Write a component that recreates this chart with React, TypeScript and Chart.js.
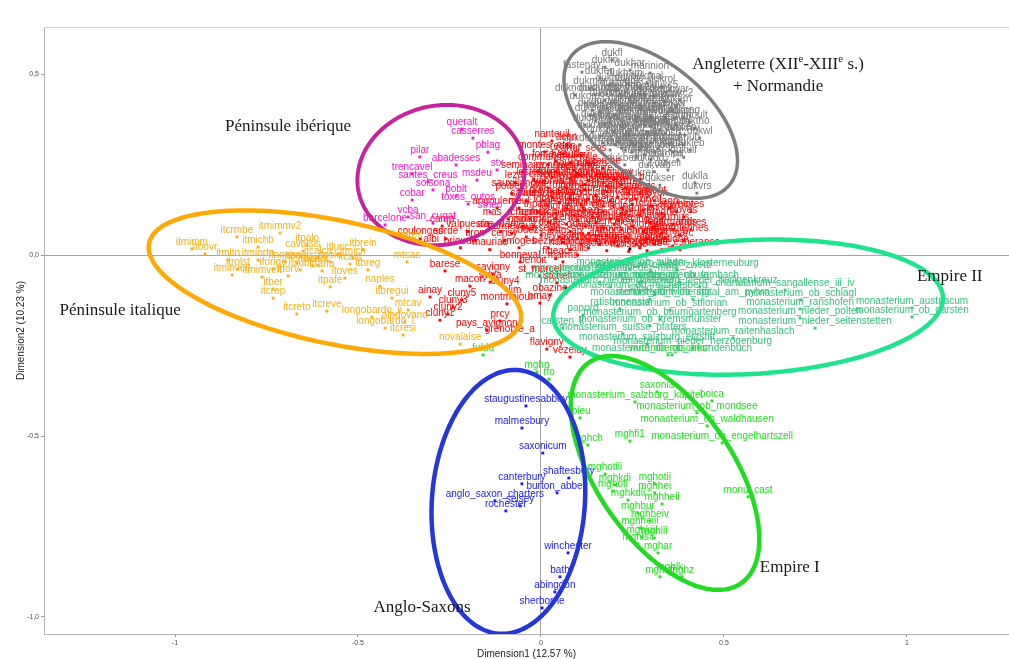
import React, { useEffect, useRef } from 'react';
import { Chart, registerables } from 'chart.js';

Chart.register(...registerables);

// ---------------- axes ----------------
const xTicks = [-1, -0.5, 0, 0.5, 1];
const xTickLabels = ['-1', '-0.5', '0', '0.5', '1'];
const yTicks = [-1, -0.5, 0, 0.5];
const yTickLabels = ['-1,0', '-0,5', '0,0', '0,5'];
const xTitle = 'Dimension1 (12.57 %)';
const yTitle = 'Dimension2 (10.23 %)';

// ---------------- Angleterre + Normandie (grey) ----------------
const angleNames = ['dukfin','fastenay','marinion','dukfen','dukham','dukndow','dukmar','dukbat','dukcar','dukc5',
  'dukc2','dukord','dukrob','dukjoh','dukste','dukhen','dukwil','dukric','dukgeo','grimoult',
  'duklp','dukwal','dukhug','dukrad','dukalan','dukwl','dukdow','dukgil','dukpet','dukmat',
  'dukosb','dukleb','dukrog','dukada','dukthom','pa','dukbern','dukgod','dukeli','duklla',
  'dukvrs','dukrei','dukser','dukfl','dukhar','dukbur','duknic','dukemm','dukagn','duksim',
  'dukal','dukand','dukbart','dukedw','dukrich','dukwalt','dukrand','dukhw','dukba','duklaur',
  'dukiv','dukv','dukvi','dukvii','dukviii','dukix','dukx','dukxi','dukxii','dukxiii'];
const angleX = [0.175,0.112,0.298,0.161,0.229,0.093,0.134,0.202,0.270,0.339,
  0.380,0.120,0.175,0.243,0.311,0.161,0.216,0.284,0.347,0.407,
  0.120,0.175,0.238,0.298,0.358,0.434,0.107,0.161,0.216,0.276,
  0.339,0.407,0.189,0.249,0.311,0.374,0.229,0.292,0.347,0.421,
  0.426,0.270,0.325,0.194,0.243,0.134,0.194,0.262,0.325,0.216,
  0.284,0.148,0.366,0.257,0.311,0.202,0.229,0.393,0.352,0.284,
  0.216,0.270,0.243,0.298,0.229,0.284,0.325,0.189,0.257,0.311];
const angleY = [0.519,0.505,0.503,0.489,0.483,0.442,0.461,0.456,0.461,0.450,
  0.428,0.420,0.428,0.428,0.420,0.395,0.395,0.395,0.395,0.367,
  0.359,0.362,0.362,0.356,0.351,0.323,0.304,0.329,0.323,0.318,
  0.318,0.290,0.290,0.284,0.284,0.262,0.249,0.249,0.235,0.199,
  0.171,0.207,0.193,0.539,0.511,0.387,0.345,0.345,0.345,0.442,
  0.442,0.442,0.378,0.387,0.318,0.304,0.290,0.331,0.290,0.276,
  0.414,0.414,0.378,0.378,0.331,0.356,0.414,0.378,0.304,0.351];
const angleCoreNames = ['dukhal','dukjoc','dukmal','dukrol','dukgui','dukodo','dukreg','dukser2','dukwar','dukalb',
  'dukber','dukcon','dukdav','dukern','dukfulk','dukgal','dukher','dukive','dukjor','duklam',
  'dukmau','duknig','dukoli','dukpag','dukram','duksaw','duktur','dukurs','dukvig','dukwin',
  'dukyvo','dukarn','dukbal','dukcec','dukdro','dukeud','dukfra','dukgun','dukhub','duking',
  'dukjul','dukkat','duklef','dukmil','dukneh','dukorm','dukpic','dukqui','dukrav','dukset',
  'duktho','dukulf','dukvau'];
const angleCoreX = [0.19,0.24,0.29,0.33,0.18,0.23,0.27,0.31,0.36,0.20,
  0.25,0.29,0.34,0.37,0.18,0.23,0.27,0.31,0.36,0.20,
  0.26,0.30,0.34,0.39,0.19,0.22,0.27,0.32,0.37,0.20,
  0.24,0.29,0.34,0.38,0.21,0.25,0.30,0.35,0.39,0.22,
  0.27,0.32,0.36,0.26,0.30,0.34,0.14,0.15,0.14,0.17,
  0.42,0.39,0.31];
const angleCoreY = [0.470,0.470,0.475,0.465,0.445,0.450,0.445,0.440,0.440,0.425,
  0.420,0.425,0.425,0.410,0.405,0.400,0.405,0.400,0.400,0.385,
  0.380,0.385,0.380,0.380,0.365,0.355,0.360,0.360,0.360,0.340,
  0.335,0.340,0.335,0.335,0.315,0.310,0.310,0.305,0.305,0.295,
  0.290,0.295,0.285,0.270,0.265,0.260,0.400,0.370,0.340,0.310,
  0.350,0.270,0.230];

// ---------------- France (red) ----------------
const franceNames = ['nanteuil','acon','montes_ord','redon','cartul_sens','commanderie','beaulieu','tulle','uzerche','seminaire',
  'conques','molesme','auxerre','pontigny','lezat','citeaux','clairvaux','marmoutier','vendome','chartres',
  'stdenis','sauxillanges','stgermain','corbie','stbertin','arras','amiens','noyon','laon','aubazine',
  'reims','chalons','metz','gorze','toul','verdun','troyes','tripale','langres','dijon',
  'beze','stbenigne','autun','chalon','tournus','mas_d_azil','lyon','vienne','romans','valence',
  'die','avignon','arles','marchiennes','marseille','lerins','aix','apt','nimes','maguelone',
  'aniane','gellone','beziers','narbonne','carcassonne','toulouse','moissac','cahors','figeac','camp',
  'valpuesta','aire_dame','coulonges','sorde','cerisy','tiron','rodez','albi','brioude','mauriac',
  'limoges','solignac','angouleme','saintes','poitiers','barese','savigny','benoit','marms','st_marcel',
  'sylva','macon','cluny4','lim','montmajour','ainay','cluny3','cluny2','cluny1','prcy',
  'pays_avignon','grenoble_a','flavigny','vezelay','obazine','hmay','stchef','bonneval','cluny5'];
const franceX = [0.03,0.07,0.01,0.06,0.11,0.02,0.08,0.13,0.17,-0.05,
  0.04,0.10,0.15,0.20,-0.07,0.01,0.06,0.12,0.18,0.23,
  0.27,-0.06,0.03,0.09,0.15,0.21,0.26,0.31,0.35,0.005,
  0.05,0.11,0.17,0.22,0.28,0.33,0.39,-0.01,0.04,0.09,
  0.14,0.19,0.25,0.30,0.36,-0.09,0.02,0.07,0.12,0.17,
  0.22,0.28,0.33,0.38,0.0,0.05,0.10,0.15,0.20,0.26,
  0.31,0.36,0.02,0.08,0.13,0.18,0.24,0.29,0.04,-0.27,
  -0.20,-0.11,-0.33,-0.26,-0.10,-0.18,-0.04,-0.30,-0.22,-0.14,
  -0.06,-0.02,-0.12,-0.04,-0.08,-0.262,-0.131,-0.022,0.060,-0.003,
  -0.139,-0.194,-0.098,-0.071,-0.093,-0.303,-0.240,-0.254,-0.276,-0.112,
  -0.148,-0.085,0.016,0.079,0.025,-0.003,0.044,-0.057,-0.216];
const franceY = [0.315,0.305,0.285,0.28,0.275,0.25,0.255,0.25,0.24,0.23,
  0.23,0.225,0.22,0.21,0.20,0.205,0.20,0.195,0.19,0.185,
  0.17,0.18,0.175,0.17,0.165,0.16,0.155,0.15,0.13,0.15,
  0.145,0.14,0.135,0.13,0.125,0.115,0.105,0.12,0.115,0.11,
  0.105,0.10,0.095,0.09,0.085,0.10,0.09,0.085,0.08,0.075,
  0.07,0.065,0.06,0.055,0.055,0.05,0.045,0.04,0.035,0.03,
  0.03,0.025,0.02,0.015,0.02,0.012,0.01,0.012,-0.01,0.08,
  0.065,0.065,0.045,0.045,0.04,0.04,0.05,0.025,0.02,0.015,
  0.02,0.08,0.13,0.15,0.17,-0.044,-0.052,-0.033,-0.019,-0.058,
  -0.075,-0.086,-0.091,-0.116,-0.135,-0.116,-0.144,-0.163,-0.180,-0.182,
  -0.207,-0.224,-0.260,-0.282,-0.110,-0.133,-0.077,-0.019,-0.124];
const franceCoreNames = ['fontevraud','bourgueil','noyers','lagrasse','psalmodi','silvanes','bonnecombe','obazine_b','vabres','lerat',
  'mazan','chaalis','ourscamp','longpont','premontre','foigny','vauclair','igny','signy','orval',
  'stavelot','lobbes','gembloux','afflighem','villers','aulne','waulsort','brogne','hoyes','marchienne',
  'hasnon','anchin','vicoigne','cysoing','loos','clairmarais','andres','dunes','ter_doest','eename',
  'ninove','tronchiennes','baudeloo','affligem_b','parc','heylissem','averbode','tongerlo','postel','floreffe',
  'leffe','bonne_esperance','vallis','lesterps','charroux','nieul','bonnevaux','noirlac'];
const franceCoreX = [0.04,0.09,0.14,0.03,0.08,0.13,0.17,0.22,0.02,0.07,
  0.12,0.18,0.24,0.29,0.03,0.08,0.13,0.19,0.25,0.30,
  0.37,0.02,0.07,0.12,0.17,0.22,0.27,0.33,0.41,0.04,
  0.10,0.15,0.20,0.25,0.31,0.36,0.41,0.03,0.08,0.13,
  0.18,0.23,0.29,0.34,0.39,0.06,0.11,0.16,0.21,0.27,
  0.33,0.38,0.10,-0.02,-0.03,-0.06,-0.08,-0.05];
const franceCoreY = [0.260,0.235,0.235,0.215,0.210,0.205,0.200,0.195,0.185,0.185,
  0.180,0.175,0.170,0.160,0.160,0.155,0.155,0.150,0.140,0.135,
  0.120,0.135,0.130,0.125,0.120,0.115,0.110,0.100,0.120,0.100,
  0.095,0.090,0.085,0.080,0.075,0.070,0.070,0.070,0.065,0.060,
  0.055,0.050,0.045,0.045,0.040,0.035,0.030,0.030,0.025,0.020,
  0.015,0.015,0.000,0.210,0.100,0.130,0.060,0.080];

// ---------------- Péninsule ibérique (magenta) ----------------
const iberiaNames = ['queralt','casserres','pblag','pilar','abadesses','trencavel','stx','msdeu','santes_creus','solsona',
  'cobar','poblt','toxos_outos','stheo','vcba','barcelone','san_cugat'];
const iberiaX = [-0.216,-0.186,-0.145,-0.331,-0.232,-0.352,-0.120,-0.175,-0.309,-0.295,
  -0.352,-0.232,-0.199,-0.139,-0.363,-0.426,-0.295];
const iberiaY = [0.348,0.323,0.284,0.271,0.249,0.224,0.235,0.207,0.202,0.180,
  0.152,0.163,0.141,0.119,0.105,0.083,0.088];

// ---------------- Péninsule italique (orange) ----------------
const italyNames = ['itmimm','itoovr','itcrmbe','itmimmv2','itmichb','itpalo','cavalsis','itcalca','itmito','itmiorto',
  'itrolst','iforige','itminvelt','itmimvelt','itbocr','itbencr','itcolo','itsubl','ittorv','itfarfa',
  'itber','itcrep','itbrein','itmich','itcast','itbreg','itoves','itpafe','naples','itbregui',
  'itcreto','itcreve','longobardo_ii','mtcav','alpdovano','longobardo_i','itcresi','novalaise','mtcas','itbres',
  'itlucc','itnonan','itvolt'];
const italyX = [-0.954,-0.918,-0.831,-0.713,-0.773,-0.639,-0.650,-0.609,-0.855,-0.773,
  -0.828,-0.732,-0.844,-0.762,-0.667,-0.623,-0.576,-0.658,-0.691,-0.598,
  -0.732,-0.732,-0.486,-0.514,-0.522,-0.473,-0.536,-0.576,-0.440,-0.407,
  -0.667,-0.585,-0.462,-0.363,-0.372,-0.426,-0.377,-0.221,-0.366,-0.358,
  -0.555,-0.699,-0.609];
const italyY = [0.017,0.003,0.050,0.061,0.022,0.028,0.011,-0.008,-0.014,-0.014,
  -0.039,-0.039,-0.055,-0.061,-0.022,-0.030,-0.019,-0.041,-0.058,-0.044,
  -0.094,-0.119,0.014,-0.008,-0.025,-0.041,-0.064,-0.088,-0.086,-0.119,
  -0.163,-0.155,-0.171,-0.152,-0.185,-0.202,-0.221,-0.246,-0.019,0.036,
  0.003,-0.019,-0.028];

// ---------------- Empire II (sea green) ----------------
const empire2Names = ['chartularium_sangallense_iii_iv','monasterium_ob_schlagl','monasterium_ranshofen','monasterium_austriacum',
  'monasterium_nieder_polten','monasterium_ob_garsten','monasterium_nieder_seitenstetten','monasterium_raitenhaslach',
  'monasterium_salzburg_erzstift','monasterium_nieder_herzogenburg','monasterium_ob_ob_urkundenbuch','monasterium_suisse_pfafers',
  'monasterium_ob_kremsmunster','monasterium_ob_baumgartenberg','papord','ratisbonensia','monasterium_ob_stflorian',
  'monasterium_ob_spital_am_pyhrn','monasterium_ob_wilhering','monasterium_ob_lambach','monasterium_nieder_heiligenkreuz',
  'monasterium_nieder_klosterneuburg','monasterium_nieder_zwettl','monasterium_nieder_melk','monasterium_nieder_altenburg',
  'monasterium_nieder_goettweig','monasterium_ob_reichersberg','monasterium_ob_suben','monasterium_salzburg_nonnberg',
  'monasterium_passau','carsten_k','sankt_peter'];
const empire2X = [0.667,0.710,0.708,1.014,0.708,1.014,0.749,0.525,0.290,0.415,0.358,0.224,0.298,0.325,0.115,0.216,0.352,
  0.415,0.298,0.380,0.434,0.372,0.298,0.216,0.270,0.189,0.270,0.243,0.161,0.107,0.060,0.310];
const empire2Y = [-0.097,-0.124,-0.149,-0.146,-0.174,-0.171,-0.202,-0.229,-0.246,-0.257,-0.276,-0.218,-0.196,-0.177,-0.166,-0.149,-0.152,
  -0.122,-0.122,-0.075,-0.088,-0.041,-0.047,-0.055,-0.075,-0.088,-0.102,-0.039,-0.075,-0.055,-0.202,-0.110];

// ---------------- Empire I (bright green) ----------------
const empire1Names = ['saxonia','monasterium_salzburg_kapitel','boica','monasterium_ob_mondsee','monasterium_ob_waldhausen','lpieu',
  'mghfi1','monasterium_ob_engelhartszell','mghch','mghotiii','mghkdi','mghotii','mghoti','mghhei','mghkdii','mghheii',
  'mghbur','mghheiv','mghheiii','mghkiii','mghlii','mghlsii','mghar','mghldj','mghz','mghlk','monu_cast',
  'wirtembergisches','fulda','mghp','rfo'];
const empire1X = [0.317,0.257,0.467,0.426,0.454,0.107,0.243,0.495,0.128,0.175,0.202,0.311,0.197,0.311,0.238,0.331,
  0.265,0.298,0.270,0.276,0.310,0.265,0.320,0.325,0.385,0.352,0.566,0.347,-0.158,-0.011,0.022];
const empire1Y = [-0.378,-0.406,-0.403,-0.436,-0.472,-0.450,-0.514,-0.519,-0.525,-0.605,-0.635,-0.632,-0.652,-0.657,-0.677,-0.688,
  -0.713,-0.735,-0.754,-0.779,-0.782,-0.798,-0.823,-0.889,-0.889,-0.881,-0.668,-0.276,-0.276,-0.323,-0.343];

// ---------------- Anglo-Saxons (blue) ----------------
const saxonNames = ['staugustinesabbey','malmesbury','saxonicum','shaftesbury','canterbury','burton_abbey','anglo_saxon_charters',
  'selsey','rochester','winchester','bath','abingdon','sherborne'];
const saxonX = [-0.041,-0.052,0.005,0.076,-0.052,0.044,-0.126,-0.057,-0.096,0.074,0.052,0.038,0.003];
const saxonY = [-0.417,-0.478,-0.547,-0.616,-0.632,-0.657,-0.679,-0.693,-0.707,-0.823,-0.889,-0.931,-0.975];

// ---------------- unlabelled points (black) ----------------
const otherX = [0.068, 0.068, 0.243];
const otherY = [-0.091, -0.105, 0.017];

// ---------------- confidence ellipses ----------------
const ellipseGroup = ['angle', 'iberia', 'italy', 'empire2', 'empire1', 'saxon'];
const ellipseCX = [0.30, -0.273, -0.563, 0.566, 0.339, -0.089];
const ellipseCY = [0.373, 0.221, -0.075, -0.144, -0.602, -0.682];
const ellipseA = [0.280, 0.230, 0.519, 0.533, 0.369, 0.365];
const ellipseB = [0.157, 0.192, 0.170, 0.185, 0.186, 0.209];
const ellipseAngle = [-40, 12, -12, 3, -56, 86];

// ---------------- group annotations ----------------
const groupText = ['Angleterre (XIIᵉ-XIIIᵉ s.)', '+ Normandie', 'Péninsule ibérique', 'Péninsule italique', 'Empire II', 'Empire I', 'Anglo-Saxons'];
const groupX = [0.648, 0.648, -0.691, -1.150, 1.117, 0.680, -0.325];
const groupY = [0.530, 0.470, 0.359, -0.149, -0.055, -0.859, -0.972];

// ---------------- styles ----------------
const STYLE: Record<string, { point: string; label: string; ellipse: string; width: number }> = {
  angle: { point: '#7a7a7a', label: '#7a7a7a', ellipse: '#7d7d7d', width: 3.5 },
  france: { point: '#ff0000', label: '#ff0000', ellipse: '#ff0000', width: 0 },
  iberia: { point: '#ff14c8', label: '#ff14c8', ellipse: '#c8239f', width: 4 },
  italy: { point: '#f8b016', label: '#f8b016', ellipse: '#ffa806', width: 4.5 },
  empire2: { point: '#38c27c', label: '#38c27c', ellipse: '#1fe38d', width: 4.5 },
  empire1: { point: '#25e020', label: '#25e020', ellipse: '#22dc22', width: 4.5 },
  saxon: { point: '#1a1aff', label: '#1a1aff', ellipse: '#2537d8', width: 4.5 },
  other: { point: '#000000', label: '#000000', ellipse: '#000', width: 0 },
};

const SANS = '"Liberation Sans", Arial, Helvetica, sans-serif';
const SERIF = '"Liberation Serif", "Times New Roman", serif';

function pts(xs: number[], ys: number[]) {
  return xs.map((x, i) => ({ x, y: ys[i] }));
}

function drawRich(ctx: CanvasRenderingContext2D, text: string, cx: number, cy: number, size: number) {
  const parts = text.split('ᵉ');
  const segs: { t: string; sup: boolean; w: number }[] = [];
  parts.forEach((p, i) => {
    segs.push({ t: p, sup: false, w: 0 });
    if (i < parts.length - 1) segs.push({ t: 'e', sup: true, w: 0 });
  });
  const normal = `${size}px ${SERIF}`;
  const sup = `${Math.round(size * 0.62)}px ${SERIF}`;
  let total = 0;
  segs.forEach((s) => {
    ctx.font = s.sup ? sup : normal;
    s.w = ctx.measureText(s.t).width;
    total += s.w;
  });
  let x = cx - total / 2;
  const base = cy + size * 0.33;
  ctx.textAlign = 'left';
  ctx.textBaseline = 'alphabetic';
  segs.forEach((s) => {
    ctx.font = s.sup ? sup : normal;
    ctx.fillText(s.t, x, s.sup ? base - size * 0.42 : base);
    x += s.w;
  });
}

const overlayPlugin = {
  id: 'overlay',
  beforeDatasetsDraw(chart: any) {
    const { ctx, chartArea } = chart;
    ctx.save();
    ctx.strokeStyle = '#d4d4d4';
    ctx.lineWidth = 1;
    ctx.beginPath();
    ctx.moveTo(chartArea.left, chartArea.top + 0.5);
    ctx.lineTo(chartArea.right, chartArea.top + 0.5);
    ctx.stroke();
    ctx.restore();
  },
  afterDatasetsDraw(chart: any) {
    const { ctx, chartArea } = chart;
    const xs = chart.scales.x;
    const ys = chart.scales.y;
    ctx.save();
    ctx.beginPath();
    ctx.rect(chartArea.left, chartArea.top, chartArea.right - chartArea.left, chartArea.bottom - chartArea.top);
    ctx.clip();
    // point labels
    ctx.font = `10px ${SANS}`;
    ctx.textAlign = 'center';
    ctx.textBaseline = 'middle';
    chart.data.datasets.forEach((ds: any, i: number) => {
      if (!ds.pointNames) return;
      const meta = chart.getDatasetMeta(i);
      ctx.fillStyle = ds.labelColor;
      meta.data.forEach((el: any, j: number) => {
        ctx.fillText(ds.pointNames[j], el.x, el.y - 7);
      });
    });
    // ellipses
    ellipseGroup.forEach((g, k) => {
      const st = STYLE[g];
      const th = (ellipseAngle[k] * Math.PI) / 180;
      const c = Math.cos(th);
      const s = Math.sin(th);
      ctx.beginPath();
      for (let t = 0; t <= 240; t++) {
        const a = (t / 240) * Math.PI * 2;
        const dx = ellipseA[k] * Math.cos(a) * c - ellipseB[k] * Math.sin(a) * s;
        const dy = ellipseA[k] * Math.cos(a) * s + ellipseB[k] * Math.sin(a) * c;
        const px = xs.getPixelForValue(ellipseCX[k] + dx);
        const py = ys.getPixelForValue(ellipseCY[k] + dy);
        if (t === 0) ctx.moveTo(px, py);
        else ctx.lineTo(px, py);
      }
      ctx.closePath();
      ctx.strokeStyle = st.ellipse;
      ctx.lineWidth = st.width;
      ctx.stroke();
    });
    // group annotations
    ctx.fillStyle = '#1a1a1a';
    groupText.forEach((txt, k) => {
      drawRich(ctx, txt, xs.getPixelForValue(groupX[k]), ys.getPixelForValue(groupY[k]), 17);
    });
    ctx.restore();
  },
};

function makeDataset(key: string, names: string[] | null, xs: number[], ys: number[]) {
  const st = STYLE[key];
  return {
    label: key,
    data: pts(xs, ys),
    pointNames: names,
    labelColor: st.label,
    backgroundColor: st.point,
    borderColor: st.point,
    borderWidth: 0,
    pointStyle: 'rect',
    pointRadius: 2,
    pointHoverRadius: 2,
    showLine: false,
  };
}

function findLabel(values: number[], labels: string[], v: number) {
  const i = values.findIndex((t) => Math.abs(t - v) < 1e-9);
  return i >= 0 ? labels[i] : '';
}

export default function App() {
  const ref = useRef<HTMLCanvasElement | null>(null);
  useEffect(() => {
    if (!ref.current) return;
    const chart = new Chart(ref.current, {
      type: 'scatter',
      data: {
        datasets: [
          makeDataset('angle', angleNames.concat(angleCoreNames), angleX.concat(angleCoreX), angleY.concat(angleCoreY)),
          makeDataset('france', franceNames.concat(franceCoreNames), franceX.concat(franceCoreX), franceY.concat(franceCoreY)),
          makeDataset('iberia', iberiaNames, iberiaX, iberiaY),
          makeDataset('italy', italyNames, italyX, italyY),
          makeDataset('empire2', empire2Names, empire2X, empire2Y),
          makeDataset('empire1', empire1Names, empire1X, empire1Y),
          makeDataset('saxon', saxonNames, saxonX, saxonY),
          makeDataset('other', null, otherX, otherY),
        ] as any,
      },
      options: {
        responsive: false,
        animation: false,
        devicePixelRatio: 1,
        layout: { autoPadding: false, padding: { top: 27, left: 0, right: 0, bottom: 0 } },
        plugins: { legend: { display: false }, tooltip: { enabled: false } },
        scales: {
          x: {
            type: 'linear',
            position: 'bottom',
            min: -1.358,
            max: 1.279,
            afterBuildTicks: (scale: any) => {
              scale.ticks = xTicks.map((v) => ({ value: v }));
            },
            afterFit: (scale: any) => {
              scale.height = 25;
            },
            ticks: {
              autoSkip: false,
              maxRotation: 0,
              padding: 2,
              color: '#4d4d4d',
              font: { size: 7, family: SANS },
              callback: (v: any) => findLabel(xTicks, xTickLabels, Number(v)),
            },
            grid: {
              drawOnChartArea: true,
              color: (c: any) => (c.tick && Math.abs(c.tick.value) < 1e-9 ? '#a6a6a6' : 'rgba(0,0,0,0)'),
              tickColor: '#9a9a9a',
              tickLength: 3,
            },
            border: { display: true, color: '#b3b3b3', width: 1 },
            title: {
              display: true,
              text: xTitle,
              color: '#222',
              font: { size: 10, family: SANS, lineHeight: 1 },
              padding: { top: 0, bottom: 0 },
            },
          },
          y: {
            type: 'linear',
            position: 'left',
            min: -1.047,
            max: 0.63,
            afterBuildTicks: (scale: any) => {
              scale.ticks = yTicks.map((v) => ({ value: v }));
            },
            afterFit: (scale: any) => {
              scale.width = 44;
            },
            ticks: {
              autoSkip: false,
              padding: 2,
              color: '#4d4d4d',
              font: { size: 7, family: SANS },
              callback: (v: any) => findLabel(yTicks, yTickLabels, Number(v)),
            },
            grid: {
              drawOnChartArea: true,
              color: (c: any) => (c.tick && Math.abs(c.tick.value) < 1e-9 ? '#a6a6a6' : 'rgba(0,0,0,0)'),
              tickColor: '#9a9a9a',
              tickLength: 3,
            },
            border: { display: true, color: '#b3b3b3', width: 1 },
            title: {
              display: true,
              text: yTitle,
              color: '#222',
              font: { size: 10, family: SANS, lineHeight: 1 },
              padding: { top: 16, bottom: 0 },
            },
          },
        },
      } as any,
      plugins: [overlayPlugin],
    });
    return () => chart.destroy();
  }, []);

  return (
    <div style={{ position: 'absolute', left: 0, top: 0, width: 1009, height: 659, background: '#fff' }}>
      <canvas ref={ref} width={1009} height={659} style={{ display: 'block' }} />
    </div>
  );
}
